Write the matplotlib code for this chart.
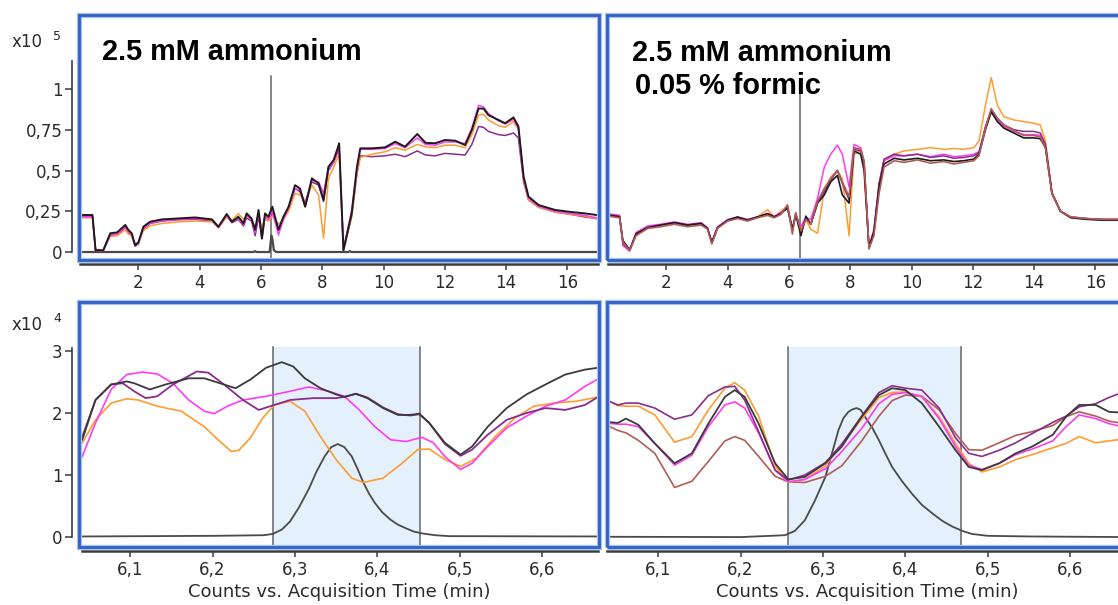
import matplotlib
matplotlib.use('Agg')
import matplotlib.pyplot as plt
from matplotlib.patches import Rectangle
from matplotlib.ticker import FuncFormatter

# ---------------- data ----------------
# top left: 2.5 mM ammonium, full run (x10^5 counts)
tl_time = [0.1, 0.5, 0.6, 0.85, 1.08, 1.3, 1.46, 1.57, 1.67, 1.78, 1.89, 2.0, 2.16, 2.38, 2.76,
           3.3, 3.85, 4.4, 4.61, 4.88, 5.05, 5.26, 5.43, 5.53, 5.69, 5.81, 5.92, 6.03, 6.13, 6.24,
           6.37, 6.57, 6.73, 6.9, 7.11, 7.27, 7.44, 7.66, 7.88, 8.04, 8.2, 8.37, 8.5, 8.55, 8.69,
           8.96, 9.13, 9.24, 9.62, 10.05, 10.38, 10.7, 11.1, 11.37, 11.68, 12.0, 12.34, 12.66, 12.88,
           13.1, 13.26, 13.42, 13.75, 13.97, 14.24, 14.4, 14.57, 14.73, 15.06, 15.6, 16.14, 16.57, 16.95]
tl_black = [0.227, 0.227, 0.012, 0.01, 0.115, 0.12, 0.147, 0.166, 0.136, 0.115, 0.043, 0.06, 0.155, 0.186, 0.2,
            0.206, 0.212, 0.2, 0.155, 0.233, 0.186, 0.216, 0.176, 0.237, 0.206, 0.136, 0.258, 0.084, 0.237, 0.216,
            0.278, 0.136, 0.216, 0.278, 0.41, 0.39, 0.278, 0.452, 0.42, 0.32, 0.523, 0.564, 0.636, 0.667, 0.01,
            0.237, 0.523, 0.636, 0.636, 0.642, 0.677, 0.646, 0.724, 0.67, 0.667, 0.687, 0.683, 0.656, 0.748,
            0.88, 0.88, 0.84, 0.81, 0.79, 0.826, 0.77, 0.462, 0.34, 0.288, 0.258, 0.245, 0.237, 0.227]
tl_magenta = [0.215, 0.215, 0.01, 0.008, 0.105, 0.11, 0.135, 0.155, 0.125, 0.11, 0.04, 0.055, 0.145, 0.178, 0.192,
              0.2, 0.205, 0.195, 0.15, 0.225, 0.19, 0.205, 0.17, 0.225, 0.2, 0.12, 0.24, 0.1, 0.22, 0.2,
              0.25, 0.105, 0.2, 0.27, 0.39, 0.38, 0.3, 0.44, 0.43, 0.36, 0.51, 0.55, 0.62, 0.64, 0.02,
              0.26, 0.5, 0.63, 0.63, 0.635, 0.665, 0.64, 0.7, 0.66, 0.655, 0.675, 0.675, 0.665, 0.76,
              0.9, 0.89, 0.85, 0.805, 0.785, 0.815, 0.76, 0.45, 0.33, 0.28, 0.25, 0.235, 0.225, 0.21]
tl_orange = [0.21, 0.21, 0.015, 0.012, 0.095, 0.1, 0.12, 0.14, 0.11, 0.1, 0.045, 0.06, 0.13, 0.16, 0.175,
             0.185, 0.19, 0.185, 0.15, 0.215, 0.195, 0.235, 0.2, 0.22, 0.2, 0.15, 0.23, 0.15, 0.2, 0.19,
             0.22, 0.17, 0.2, 0.25, 0.36, 0.35, 0.31, 0.41, 0.35, 0.085, 0.45, 0.52, 0.58, 0.6, 0.02,
             0.22, 0.48, 0.58, 0.6, 0.615, 0.64, 0.625, 0.66, 0.645, 0.64, 0.655, 0.655, 0.64, 0.72,
             0.84, 0.845, 0.81, 0.775, 0.765, 0.8, 0.75, 0.44, 0.32, 0.275, 0.245, 0.23, 0.22, 0.205]
tl_purple = [0.22, 0.22, 0.01, 0.008, 0.1, 0.11, 0.13, 0.15, 0.12, 0.1, 0.035, 0.05, 0.14, 0.175, 0.19,
             0.198, 0.2, 0.19, 0.15, 0.22, 0.18, 0.2, 0.16, 0.21, 0.19, 0.1, 0.22, 0.08, 0.22, 0.2,
             0.24, 0.14, 0.2, 0.27, 0.39, 0.37, 0.28, 0.43, 0.41, 0.31, 0.5, 0.55, 0.61, 0.64, 0.01,
             0.22, 0.48, 0.59, 0.585, 0.59, 0.6, 0.585, 0.62, 0.595, 0.59, 0.605, 0.6, 0.595, 0.66,
             0.77, 0.765, 0.74, 0.72, 0.715, 0.73, 0.7, 0.43, 0.32, 0.275, 0.245, 0.23, 0.215, 0.205]
tl_eic_time = [0.1, 5.75, 5.8, 5.85, 6.28, 6.34, 6.37, 6.42, 6.5, 8.85, 8.9, 8.95, 16.95]
tl_eic = [0, 0, 0.005, 0, 0, 0.1, 0.08, 0.01, 0, 0, 0.005, 0, 0]

# top right: 2.5 mM ammonium + 0.05 % formic, full run
tr_time = [0.09, 0.47, 0.58, 0.8, 1.01, 1.39, 1.8, 2.26, 2.69, 3.13, 3.34, 3.48, 3.67, 4.0, 4.32,
           4.65, 4.97, 5.3, 5.52, 5.73, 5.95, 6.11, 6.22, 6.39, 6.55, 6.71, 6.93, 7.15, 7.36, 7.58,
           7.74, 7.96, 8.12, 8.34, 8.45, 8.61, 8.77, 8.94, 9.1, 9.43, 9.75, 10.19, 10.62, 11.05, 11.38,
           11.7, 12.03, 12.2, 12.41, 12.6, 12.8, 13.01, 13.34, 13.66, 13.99, 14.2, 14.37, 14.58, 14.86,
           15.19, 15.72, 16.26, 16.68, 16.98]
tr_brown = [0.22, 0.21, 0.06, 0.01, 0.10, 0.145, 0.155, 0.17, 0.155, 0.165, 0.14, 0.05, 0.145, 0.19, 0.205,
            0.19, 0.21, 0.225, 0.21, 0.23, 0.29, 0.11, 0.24, 0.13, 0.2, 0.17, 0.31, 0.39, 0.45, 0.5,
            0.43, 0.34, 0.64, 0.63, 0.56, 0.02, 0.1, 0.36, 0.52, 0.56, 0.55, 0.565, 0.545, 0.555, 0.54,
            0.55, 0.56, 0.59, 0.76, 0.88, 0.82, 0.78, 0.745, 0.715, 0.715, 0.705, 0.64, 0.36, 0.25,
            0.215, 0.205, 0.2, 0.2, 0.2]
tr_black = [0.225, 0.215, 0.07, 0.015, 0.11, 0.15, 0.165, 0.18, 0.165, 0.175, 0.145, 0.06, 0.15, 0.195, 0.215,
            0.195, 0.215, 0.235, 0.215, 0.235, 0.27, 0.14, 0.23, 0.1, 0.22, 0.17, 0.3, 0.35, 0.43, 0.47,
            0.35, 0.3, 0.62, 0.6, 0.5, 0.03, 0.12, 0.4, 0.54, 0.575, 0.565, 0.575, 0.56, 0.565, 0.555,
            0.56, 0.57, 0.6, 0.75, 0.86, 0.8, 0.76, 0.73, 0.7, 0.7, 0.695, 0.64, 0.36, 0.25,
            0.21, 0.2, 0.195, 0.195, 0.195]
tr_magenta = [0.235, 0.225, 0.04, 0.005, 0.12, 0.16, 0.17, 0.185, 0.17, 0.18, 0.15, 0.06, 0.155, 0.2, 0.215,
              0.2, 0.215, 0.235, 0.22, 0.24, 0.27, 0.15, 0.22, 0.16, 0.21, 0.2, 0.33, 0.52, 0.6, 0.656,
              0.6, 0.4, 0.66, 0.64, 0.55, 0.03, 0.14, 0.42, 0.56, 0.59, 0.59, 0.6, 0.585, 0.6, 0.585,
              0.59, 0.6, 0.615, 0.76, 0.87, 0.81, 0.77, 0.74, 0.72, 0.72, 0.715, 0.65, 0.36, 0.25,
              0.215, 0.205, 0.2, 0.2, 0.2]
tr_orange = [0.225, 0.215, 0.06, 0.01, 0.11, 0.15, 0.165, 0.18, 0.165, 0.175, 0.145, 0.06, 0.15, 0.195, 0.21,
             0.2, 0.215, 0.26, 0.215, 0.25, 0.28, 0.14, 0.22, 0.15, 0.2, 0.14, 0.115, 0.38, 0.46, 0.5,
             0.45, 0.1, 0.6, 0.62, 0.55, 0.02, 0.12, 0.4, 0.56, 0.6, 0.62, 0.63, 0.64, 0.63, 0.635,
             0.63, 0.64, 0.68, 0.9, 1.07, 0.9, 0.83, 0.81, 0.8, 0.79, 0.78, 0.68, 0.37, 0.25,
             0.215, 0.205, 0.2, 0.2, 0.2]
tr_purple = [0.23, 0.22, 0.05, 0.01, 0.115, 0.15, 0.165, 0.18, 0.165, 0.175, 0.145, 0.055, 0.15, 0.195, 0.21,
             0.195, 0.215, 0.235, 0.215, 0.235, 0.28, 0.13, 0.24, 0.12, 0.21, 0.17, 0.3, 0.37, 0.44, 0.5,
             0.42, 0.32, 0.63, 0.62, 0.55, 0.025, 0.13, 0.42, 0.57, 0.6, 0.59, 0.6, 0.58, 0.59, 0.575,
             0.58, 0.59, 0.61, 0.77, 0.87, 0.82, 0.78, 0.75, 0.74, 0.74, 0.73, 0.66, 0.36, 0.25,
             0.215, 0.205, 0.2, 0.2, 0.2]

# bottom left: zoom 6.04-6.67 min (x10^4 counts)
bl_black_t = [6.042, 6.058, 6.077, 6.096, 6.105, 6.124, 6.143, 6.171, 6.19, 6.209, 6.228, 6.246, 6.265, 6.284,
              6.298, 6.312, 6.331, 6.35, 6.36, 6.374, 6.388, 6.407, 6.425, 6.44, 6.451, 6.463, 6.482, 6.501,
              6.515, 6.534, 6.557, 6.581, 6.604, 6.628, 6.652, 6.668]
bl_black = [1.57, 2.21, 2.46, 2.51, 2.48, 2.38, 2.46, 2.56, 2.56, 2.48, 2.40, 2.54, 2.73, 2.82,
            2.75, 2.56, 2.40, 2.30, 2.26, 2.31, 2.24, 2.08, 1.97, 1.97, 1.99, 1.84, 1.52, 1.33,
            1.46, 1.78, 2.08, 2.30, 2.46, 2.62, 2.70, 2.73]
bl_purple_t = [6.042, 6.058, 6.077, 6.091, 6.105, 6.119, 6.133, 6.152, 6.181, 6.195, 6.214, 6.237, 6.256,
               6.275, 6.294, 6.322, 6.35, 6.36, 6.374, 6.388, 6.407, 6.425, 6.44, 6.451, 6.463, 6.482,
               6.501, 6.515, 6.534, 6.557, 6.581, 6.604, 6.628, 6.652, 6.668]
bl_purple = [1.62, 2.21, 2.46, 2.48, 2.35, 2.24, 2.27, 2.46, 2.67, 2.65, 2.46, 2.21, 2.05,
             2.13, 2.21, 2.24, 2.24, 2.26, 2.31, 2.25, 2.09, 1.98, 1.96, 1.98, 1.84, 1.50,
             1.31, 1.41, 1.65, 1.89, 2.0, 2.08, 2.05, 2.13, 2.26]
bl_magenta_t = [6.042, 6.058, 6.077, 6.096, 6.115, 6.133, 6.152, 6.171, 6.19, 6.202, 6.218, 6.237, 6.265,
                6.294, 6.317, 6.341, 6.36, 6.378, 6.397, 6.416, 6.435, 6.454, 6.468, 6.482, 6.501, 6.515,
                6.534, 6.557, 6.581, 6.604, 6.628, 6.652, 6.668]
bl_magenta = [1.30, 1.84, 2.38, 2.62, 2.66, 2.63, 2.48, 2.21, 2.03, 1.99, 2.11, 2.21, 2.27,
              2.35, 2.42, 2.35, 2.27, 2.05, 1.78, 1.57, 1.54, 1.61, 1.52, 1.30, 1.09, 1.19,
              1.46, 1.76, 1.95, 2.11, 2.21, 2.43, 2.55]
bl_orange_t = [6.042, 6.058, 6.077, 6.096, 6.11, 6.133, 6.162, 6.19, 6.209, 6.223, 6.232, 6.246, 6.261,
               6.275, 6.294, 6.312, 6.331, 6.35, 6.369, 6.383, 6.407, 6.43, 6.449, 6.463, 6.482, 6.501,
               6.52, 6.543, 6.567, 6.59, 6.614, 6.642, 6.668]
bl_orange = [1.52, 1.89, 2.16, 2.23, 2.21, 2.11, 2.03, 1.78, 1.54, 1.38, 1.40, 1.60, 1.92,
             2.13, 2.19, 2.03, 1.62, 1.25, 0.95, 0.88, 0.95, 1.19, 1.41, 1.42, 1.25, 1.14,
             1.27, 1.62, 1.92, 2.11, 2.16, 2.19, 2.26]
bl_eic_t = [6.042, 6.2, 6.262, 6.273, 6.284, 6.294, 6.305, 6.317, 6.326, 6.336, 6.344, 6.352, 6.36,
            6.369, 6.376, 6.383, 6.39, 6.397, 6.406, 6.416, 6.425, 6.435, 6.444, 6.454, 6.47, 6.487, 6.668]
bl_eic = [0.01, 0.02, 0.03, 0.05, 0.12, 0.25, 0.48, 0.78, 1.05, 1.3, 1.45, 1.5, 1.45,
          1.3, 1.1, 0.88, 0.7, 0.55, 0.4, 0.28, 0.2, 0.14, 0.09, 0.06, 0.03, 0.015, 0.01]

# bottom right: zoom with formic
br_time = [6.037, 6.051, 6.061, 6.076, 6.096, 6.12, 6.141, 6.161, 6.181, 6.193, 6.205, 6.222, 6.242,
           6.258, 6.278, 6.303, 6.323, 6.347, 6.368, 6.384, 6.4, 6.42, 6.441, 6.461, 6.477, 6.493,
           6.514, 6.534, 6.554, 6.579, 6.595, 6.611, 6.631, 6.647, 6.669]
br_black = [1.86, 1.84, 1.91, 1.81, 1.51, 1.19, 1.35, 1.83, 2.26, 2.37, 2.26, 1.83, 1.19,
            0.93, 0.97, 1.19, 1.46, 1.94, 2.29, 2.40, 2.37, 2.16, 1.78, 1.40, 1.13, 1.08,
            1.19, 1.35, 1.46, 1.65, 1.94, 2.13, 2.13, 2.02, 2.0]
br_purple = [2.21, 2.13, 2.16, 2.16, 2.08, 1.90, 1.97, 2.28, 2.42, 2.43, 2.21, 1.70, 1.08,
             0.92, 1.0, 1.20, 1.50, 1.95, 2.33, 2.44, 2.40, 2.37, 2.08, 1.60, 1.35, 1.30,
             1.40, 1.52, 1.67, 1.85, 1.95, 2.10, 2.15, 2.25, 2.36]
br_orange = [2.22, 2.12, 2.11, 2.11, 1.97, 1.53, 1.62, 2.05, 2.40, 2.49, 2.37, 1.95, 1.15,
             0.88, 0.93, 1.15, 1.50, 1.90, 2.25, 2.33, 2.34, 2.26, 1.94, 1.51, 1.19, 1.05,
             1.13, 1.25, 1.33, 1.44, 1.51, 1.62, 1.52, 1.55, 1.59]
br_magenta = [1.84, 1.82, 1.82, 1.78, 1.51, 1.16, 1.32, 1.78, 2.13, 2.18, 2.08, 1.68, 1.08,
              0.89, 0.93, 1.10, 1.38, 1.75, 2.15, 2.30, 2.33, 2.27, 1.91, 1.46, 1.16, 1.09,
              1.19, 1.33, 1.42, 1.55, 1.78, 1.97, 1.91, 1.83, 1.76]
br_brown = [1.81, 1.72, 1.68, 1.56, 1.35, 0.80, 0.90, 1.22, 1.55, 1.62, 1.56, 1.30, 0.98,
            0.89, 0.88, 0.98, 1.15, 1.55, 1.95, 2.20, 2.29, 2.27, 2.05, 1.67, 1.41, 1.40,
            1.52, 1.64, 1.70, 1.80, 1.94, 2.02, 1.95, 1.87, 1.82]
br_eic_t = [6.037, 6.2, 6.254, 6.266, 6.278, 6.29, 6.303, 6.311, 6.319, 6.325, 6.331, 6.336, 6.341,
            6.346, 6.351, 6.36, 6.368, 6.376, 6.384, 6.396, 6.408, 6.42, 6.433, 6.445, 6.457, 6.469,
            6.481, 6.5, 6.55, 6.669]
br_eic = [0.005, 0.0, 0.03, 0.1, 0.27, 0.58, 0.97, 1.35, 1.73, 1.92, 2.02, 2.06, 2.08,
          2.05, 1.94, 1.76, 1.56, 1.34, 1.13, 0.9, 0.70, 0.52, 0.38, 0.26, 0.17, 0.1,
          0.05, 0.02, 0.01, 0.0]

# markers / integration windows
tl_cursor, tr_cursor = 6.34, 6.36
bl_window = (6.273, 6.452)
br_window = (6.258, 6.467)

# ---------------- style ----------------
W, H = 1118, 605
C_BLACK = '#1c1c1c'
C_MAG = '#ff3cf0'
C_ORANGE = '#ff9c30'
C_PURPLE = '#8a2c8c'
C_BROWN = '#b05d58'
C_EIC = '#4a4a4a'
C_FRAME = '#2f62c4'
C_TXT = '#2b2b2b'

plt.rcParams['font.family'] = ['DejaVu Sans']
plt.rcParams['lines.solid_joinstyle'] = 'round'
fig = plt.figure(figsize=(W / 100, H / 100), dpi=100)


def panel(left, top, right, bottom, xlim, ylim, show_y, ytop, xb, xticks, yticks):
    ax = fig.add_axes([left / W, 1 - bottom / H, (right - left) / W, (bottom - top) / H])
    ax.set_xlim(*xlim)
    ax.set_ylim(*ylim)
    ax.set_facecolor('white')
    for s in ('top', 'right'):
        ax.spines[s].set_visible(False)
    ax.spines['bottom'].set_position(('outward', 3))
    ax.spines['bottom'].set_bounds(*xb)
    ax.spines['bottom'].set_linewidth(1.8)
    ax.spines['bottom'].set_color('#3a3a3a')
    ax.set_xticks(xticks)
    ax.xaxis.set_major_formatter(FuncFormatter(lambda v, p: f'{v:g}'.replace('.', ',')))
    ax.tick_params(axis='x', direction='out', length=4, width=1.1, color='#3a3a3a',
                   labelsize=12, labelcolor=C_TXT, pad=3)
    if show_y:
        ax.spines['left'].set_position(('outward', 5))
        ax.spines['left'].set_bounds(0, ytop)
        ax.spines['left'].set_linewidth(1.2)
        ax.spines['left'].set_color('#3a3a3a')
        ax.set_yticks(yticks)
        ax.yaxis.set_major_formatter(FuncFormatter(lambda v, p: f'{v:g}'.replace('.', ',')))
        ax.tick_params(axis='y', direction='out', length=5, width=1.1, color='#3a3a3a',
                       labelsize=12, labelcolor=C_TXT, pad=2)
    else:
        ax.spines['left'].set_visible(False)
        ax.set_yticks([])
    # blue double frame
    ax.add_patch(Rectangle((0, 0), 1, 1, transform=ax.transAxes, fill=False,
                           ec='#a8c0ec', lw=3.8, clip_on=False, zorder=6))
    ax.add_patch(Rectangle((0, 0), 1, 1, transform=ax.transAxes, fill=False,
                           ec=C_FRAME, lw=2.0, clip_on=False, zorder=7))
    return ax


top_xlim = (0.06, 17.03)
top_ylim = (-0.049, 1.454)
bot_xlim = (6.038, 6.669)
bot_ylim = (-0.16, 3.79)
top_ticks = [2, 4, 6, 8, 10, 12, 14, 16]
bot_ticks = [6.1, 6.2, 6.3, 6.4, 6.5, 6.6]

ax_tl = panel(79, 15, 599, 260, top_xlim, top_ylim, True, 1.17, (0.1, 17.0), top_ticks, [0, 0.25, 0.5, 0.75, 1])
ax_tr = panel(607, 15, 1127, 260, top_xlim, top_ylim, False, None, (0.1, 17.0), top_ticks, [])
ax_bl = panel(79, 302, 599, 547, bot_xlim, bot_ylim, True, 3.05, (6.042, 6.668), bot_ticks, [0, 1, 2, 3])
ax_br = panel(607, 302, 1127, 547, bot_xlim, bot_ylim, False, None, (6.038, 6.669), bot_ticks, [])

# top left
ax_tl.plot([tl_cursor, tl_cursor], [top_ylim[0], 1.08], color='#666666', lw=1.1, zorder=1)
ax_tl.plot(tl_eic_time, tl_eic, color=C_EIC, lw=1.6, zorder=2)
ax_tl.plot(tl_time, tl_purple, color=C_PURPLE, lw=1.1, zorder=3)
ax_tl.plot(tl_time, tl_orange, color=C_ORANGE, lw=1.1, zorder=3)
ax_tl.plot(tl_time, tl_magenta, color=C_MAG, lw=1.1, zorder=3)
ax_tl.plot(tl_time, tl_black, color=C_BLACK, lw=1.4, zorder=4)

# top right
ax_tr.plot([tr_cursor, tr_cursor], [top_ylim[0], 1.0], color='#666666', lw=1.1, zorder=1)
ax_tr.plot(tr_time, tr_orange, color=C_ORANGE, lw=1.1, zorder=3)
ax_tr.plot(tr_time, tr_magenta, color=C_MAG, lw=1.1, zorder=3)
ax_tr.plot(tr_time, tr_purple, color=C_PURPLE, lw=1.1, zorder=3)
ax_tr.plot(tr_time, tr_black, color=C_BLACK, lw=1.2, zorder=3)
ax_tr.plot(tr_time, tr_brown, color=C_BROWN, lw=1.2, zorder=4)

# bottom left
ax_bl.fill_between(bl_window, bot_ylim[0], 3.07, color='#e4f1fd', lw=0, zorder=0)
for xv in bl_window:
    ax_bl.plot([xv, xv], [bot_ylim[0], 3.07], color='#666666', lw=1.1, zorder=1)
ax_bl.plot(bl_eic_t, bl_eic, color=C_EIC, lw=1.3, zorder=2)
ax_bl.plot(bl_orange_t, bl_orange, color=C_ORANGE, lw=1.2, zorder=3)
ax_bl.plot(bl_magenta_t, bl_magenta, color=C_MAG, lw=1.2, zorder=3)
ax_bl.plot(bl_purple_t, bl_purple, color=C_PURPLE, lw=1.3, zorder=3)
ax_bl.plot(bl_black_t, bl_black, color='#3a3a3a', lw=1.3, zorder=4)

# bottom right
ax_br.fill_between(br_window, bot_ylim[0], 3.07, color='#e4f1fd', lw=0, zorder=0)
for xv in br_window:
    ax_br.plot([xv, xv], [bot_ylim[0], 3.07], color='#666666', lw=1.1, zorder=1)
ax_br.plot(br_eic_t, br_eic, color=C_EIC, lw=1.3, zorder=2)
ax_br.plot(br_time, br_brown, color=C_BROWN, lw=1.2, zorder=3)
ax_br.plot(br_time, br_orange, color=C_ORANGE, lw=1.2, zorder=3)
ax_br.plot(br_time, br_magenta, color=C_MAG, lw=1.2, zorder=3)
ax_br.plot(br_time, br_purple, color=C_PURPLE, lw=1.2, zorder=3)
ax_br.plot(br_time, br_black, color='#3a3a3a', lw=1.3, zorder=4)

# texts
def fx(x):
    return x / W


def fy(y):
    return 1 - y / H


title_font = dict(family='Liberation Sans', weight='bold', size=20.8, color='black')
fig.text(fx(102), fy(52), '2.5 mM ammonium', va='center', ha='left', zorder=10, **title_font)
fig.text(fx(632), fy(53), '2.5 mM ammonium', va='center', ha='left', zorder=10, **title_font)
fig.text(fx(635), fy(86), '0.05 % formic', va='center', ha='left', zorder=10, **title_font)

for ytxt, expo in ((42, '5'), (325, '4')):
    fig.text(fx(12), fy(ytxt), 'x10', va='center', ha='left', size=12, color=C_TXT)
    fig.text(fx(53), fy(ytxt - 6), expo, va='center', ha='left', size=9, color=C_TXT)

fig.text(fx(339), fy(592), 'Counts vs. Acquisition Time (min)', ha='center', va='center',
         size=13, color=C_TXT)
fig.text(fx(867), fy(592), 'Counts vs. Acquisition Time (min)', ha='center', va='center',
         size=13, color=C_TXT)

fig.savefig('out.png', dpi=100, facecolor='white')
